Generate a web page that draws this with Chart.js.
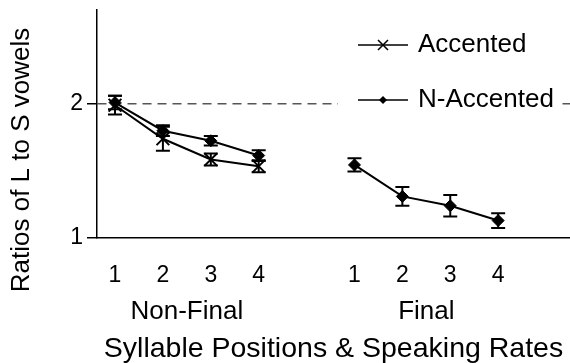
<!DOCTYPE html>
<html>
<head>
<meta charset="utf-8">
<script src="https://cdn.jsdelivr.net/npm/chart.js@4/dist/chart.umd.min.js"></script>
<style>
  html, body { margin: 0; padding: 0; background: #fff; }
  #wrap { width: 570px; height: 363px; }
</style>
</head>
<body>
<div id="wrap"><canvas id="chart"></canvas></div>
<script>
/* ---------------- Data ---------------- */
const positions = ["1", "2", "3", "4"];
const groups = ["Non-Final", "Final"];
const seriesNames = ["Accented", "N-Accented"];
const accented = [1.99, 1.74, 1.585, 1.535];
const accentedErr = [0.07, 0.09, 0.045, 0.045];
const nAccNonFinal = [2.01, 1.80, 1.725, 1.615];
const nAccNonFinalErr = [0.05, 0.04, 0.035, 0.04];
const nAccFinal = [1.545, 1.31, 1.24, 1.13];
const nAccFinalErr = [0.05, 0.07, 0.08, 0.055];
const yTicks = [1, 2];
const refValue = 2;
const xTitle = "Syllable Positions & Speaking Rates";
const yTitle = "Ratios of L to S vowels";

/* x slots: non-final 1..4, empty slot 5, final 6..9 */
const nfX = positions.map((_, i) => i + 1);
const fX = positions.map((_, i) => i + 6);
const groupX = [2.5, 7.5];

const FONT = '"Liberation Sans", Arial, sans-serif';

/* ---------------- Plugins ---------------- */
const errorBars = {
  id: "errorBars",
  afterDatasetsDraw(chart){
    const { ctx, scales: { x, y } } = chart;
    ctx.save();
    ctx.strokeStyle = "#000";
    ctx.lineWidth = 2;
    chart.data.datasets.forEach(ds => ds.data.forEach(p => {
      if (p.y == null) return;
      const px = x.getPixelForValue(p.x);
      const top = y.getPixelForValue(p.y + p.err);
      const bot = y.getPixelForValue(p.y - p.err);
      ctx.beginPath();
      ctx.moveTo(px, top); ctx.lineTo(px, bot);
      ctx.moveTo(px - 7, top); ctx.lineTo(px + 7, top);
      ctx.moveTo(px - 7, bot); ctx.lineTo(px + 7, bot);
      ctx.stroke();
    }));
    ctx.restore();
  }
};

const boxLegend = {
  id: "boxLegend",
  afterDraw(chart){
    const { ctx, chartArea: a } = chart;
    ctx.save();
    ctx.fillStyle = "#fff";
    ctx.fillRect(a.right - 232, a.top + 8, 222, 108);
    const rowY = [a.top + 35, a.top + 90];
    chart.data.datasets.forEach((ds, i) => {
      const y = rowY[i];
      const x0 = a.right - 212, x1 = a.right - 162, xm = (x0 + x1) / 2;
      ctx.strokeStyle = "#000";
      ctx.fillStyle = "#000";
      ctx.lineWidth = 1.5;
      ctx.beginPath(); ctx.moveTo(x0, y); ctx.lineTo(x1, y); ctx.stroke();
      if (ds.pointStyle === "crossRot"){
        ctx.beginPath();
        ctx.moveTo(xm - 5, y - 5); ctx.lineTo(xm + 5, y + 5);
        ctx.moveTo(xm - 5, y + 5); ctx.lineTo(xm + 5, y - 5);
        ctx.stroke();
      } else {
        ctx.beginPath();
        ctx.moveTo(xm, y - 4); ctx.lineTo(xm + 4, y); ctx.lineTo(xm, y + 4); ctx.lineTo(xm - 4, y);
        ctx.closePath(); ctx.fill();
      }
      ctx.font = "26px " + FONT;
      ctx.textAlign = "left";
      ctx.textBaseline = "middle";
      ctx.fillText(ds.label, x1 + 10, y);
    });
    ctx.restore();
  }
};

const yAxisTitle = {
  id: "yAxisTitle",
  afterDraw(chart){
    const { ctx } = chart;
    ctx.save();
    ctx.translate(22, 160);
    ctx.rotate(-Math.PI / 2);
    ctx.font = "26px " + FONT;
    ctx.fillStyle = "#000";
    ctx.textAlign = "center";
    ctx.textBaseline = "middle";
    ctx.fillText(yTitle, 0, 0);
    ctx.restore();
  }
};

/* no extra label padding around the plot */
const noPad = s => { s.paddingLeft = 0; s.paddingRight = 0; s.paddingTop = 0; s.paddingBottom = 0; };

/* ---------------- Chart ---------------- */
const xMin = 0.624, xMax = 10.5;

new Chart(document.getElementById("chart"), {
  type: "line",
  data: {
    datasets: [
      {
        label: seriesNames[0],
        data: nfX.map((x, i) => ({ x, y: accented[i], err: accentedErr[i] })),
        borderColor: "#000", backgroundColor: "#000", borderWidth: 2,
        pointStyle: "crossRot", pointRadius: 9, pointBorderWidth: 2,
        pointBorderColor: "#000", tension: 0
      },
      {
        label: seriesNames[1],
        data: [
          ...nfX.map((x, i) => ({ x, y: nAccNonFinal[i], err: nAccNonFinalErr[i] })),
          { x: 5, y: null },
          ...fX.map((x, i) => ({ x, y: nAccFinal[i], err: nAccFinalErr[i] }))
        ],
        borderColor: "#000", backgroundColor: "#000", borderWidth: 2,
        pointStyle: "rectRot", pointRadius: 6, pointBorderWidth: 1,
        pointBackgroundColor: "#000", pointBorderColor: "#000",
        spanGaps: false, tension: 0
      }
    ]
  },
  options: {
    responsive: true, maintainAspectRatio: false, animation: false,
    layout: { autoPadding: false, padding: { top: 10, right: 0, left: 0, bottom: 0 } },
    plugins: { legend: { display: false }, tooltip: { enabled: false } },
    scales: {
      x: {
        type: "linear", position: "bottom", weight: 0,
        min: xMin, max: xMax,
        afterBuildTicks: s => { s.ticks = [...nfX, ...fX].map(v => ({ value: v })); },
        afterFit: s => { s.height = 52; noPad(s); },
        ticks: {
          callback: v => v < 5 ? positions[v - 1] : positions[v - 6],
          font: { family: FONT, size: 23 }, color: "#000", padding: 24, maxRotation: 0
        },
        grid: { display: false, drawTicks: false },
        border: { display: true, color: "#000", width: 1.5 }
      },
      x2: {
        type: "linear", position: "bottom", weight: 1,
        min: xMin, max: xMax,
        afterBuildTicks: s => { s.ticks = groupX.map(v => ({ value: v })); },
        afterFit: s => { s.height = 73; noPad(s); },
        ticks: {
          callback: v => v < 5 ? groups[0] : groups[1],
          font: { family: FONT, size: 26 }, color: "#000", padding: 6, maxRotation: 0
        },
        grid: { display: false, drawTicks: false },
        border: { display: false },
        title: {
          display: true, text: xTitle, color: "#000",
          font: { family: FONT, size: 28.5, lineHeight: 1 }, padding: { top: 0, bottom: 0 }
        }
      },
      y: {
        min: 1, max: 2.7,
        afterBuildTicks: s => { s.ticks = yTicks.map(v => ({ value: v })); },
        afterFit: s => { s.width = 97; noPad(s); },
        ticks: { font: { family: FONT, size: 23 }, color: "#000", padding: 4 },
        grid: {
          color: c => c.tick && c.tick.value === refValue ? "#555" : "rgba(0,0,0,0)",
          lineWidth: 1.5, tickColor: "#000", tickLength: 10, tickWidth: 1.5, tickBorderDash: []
        },
        border: { display: true, color: "#000", width: 1.5, dash: [9, 6] }
      }
    }
  },
  plugins: [errorBars, boxLegend, yAxisTitle]
});
</script>
</body>
</html>
